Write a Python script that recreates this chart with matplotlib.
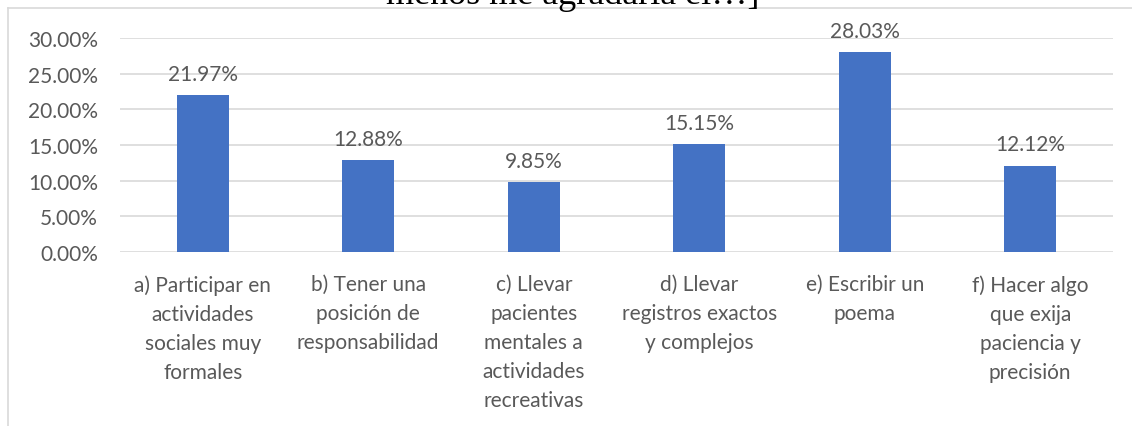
import matplotlib.pyplot as plt
from matplotlib.lines import Line2D
from matplotlib.ticker import PercentFormatter, MultipleLocator

categories = [
    "a) Participar en\nactividades\nsociales muy\nformales",
    "b) Tener una\nposición de\nresponsabilidad",
    "c) Llevar\npacientes\nmentales a\nactividades\nrecreativas",
    "d) Llevar\nregistros exactos\ny complejos",
    "e) Escribir un\npoema",
    "f) Hacer algo\nque exija\npaciencia y\nprecisión",
]
values = [21.97, 12.88, 9.85, 15.15, 28.03, 12.12]
title = "menos me agradaría el…]"

text_color = "#595959"
grid_color = "#d9d9d9"
bar_color = "#4472C4"

plt.rcParams['font.family'] = ['Lato', 'DejaVu Sans']

fig = plt.figure(figsize=(11.32, 4.27), dpi=100)
ax = fig.add_axes([120 / 1132, 1 - 253 / 427, (1113 - 120) / 1132, (253 - 39) / 427])

x = range(len(categories))
bars = ax.bar(x, values, width=0.315, color=bar_color, zorder=3)
for rect, v in zip(bars, values):
    ax.annotate(f"{v:.2f}%", (rect.get_x() + rect.get_width() / 2, v),
                xytext=(0, 8), textcoords="offset points", ha="center", va="bottom",
                fontsize=15, color=text_color)

ax.set_xlim(-0.5, len(categories) - 0.5)
ax.set_ylim(0, 30)
ax.yaxis.set_major_locator(MultipleLocator(5))
ax.yaxis.set_major_formatter(PercentFormatter(decimals=2))
ax.grid(axis="y", color=grid_color, linewidth=1.2, zorder=0)
ax.set_xticks(list(x))
ax.set_xticklabels(categories, linespacing=1.56)
ax.tick_params(axis="both", length=0, labelsize=15, labelcolor=text_color)
ax.tick_params(axis="x", pad=16)
ax.tick_params(axis="y", pad=16)
for s in ax.spines.values():
    s.set_visible(False)

# outer chart frame (top and left edges visible)
fig.add_artist(Line2D([8 / 1132, 1], [1 - 9 / 427, 1 - 9 / 427], color=grid_color, lw=1.2))
fig.add_artist(Line2D([8 / 1132, 8 / 1132], [0, 1 - 9 / 427], color=grid_color, lw=1.2))

fig.text(573 / 1132, 1 - 4 / 427, title, ha="center", va="baseline",
         fontsize=26, family="Liberation Serif", color="black")

fig.savefig("out.png", dpi=100)
